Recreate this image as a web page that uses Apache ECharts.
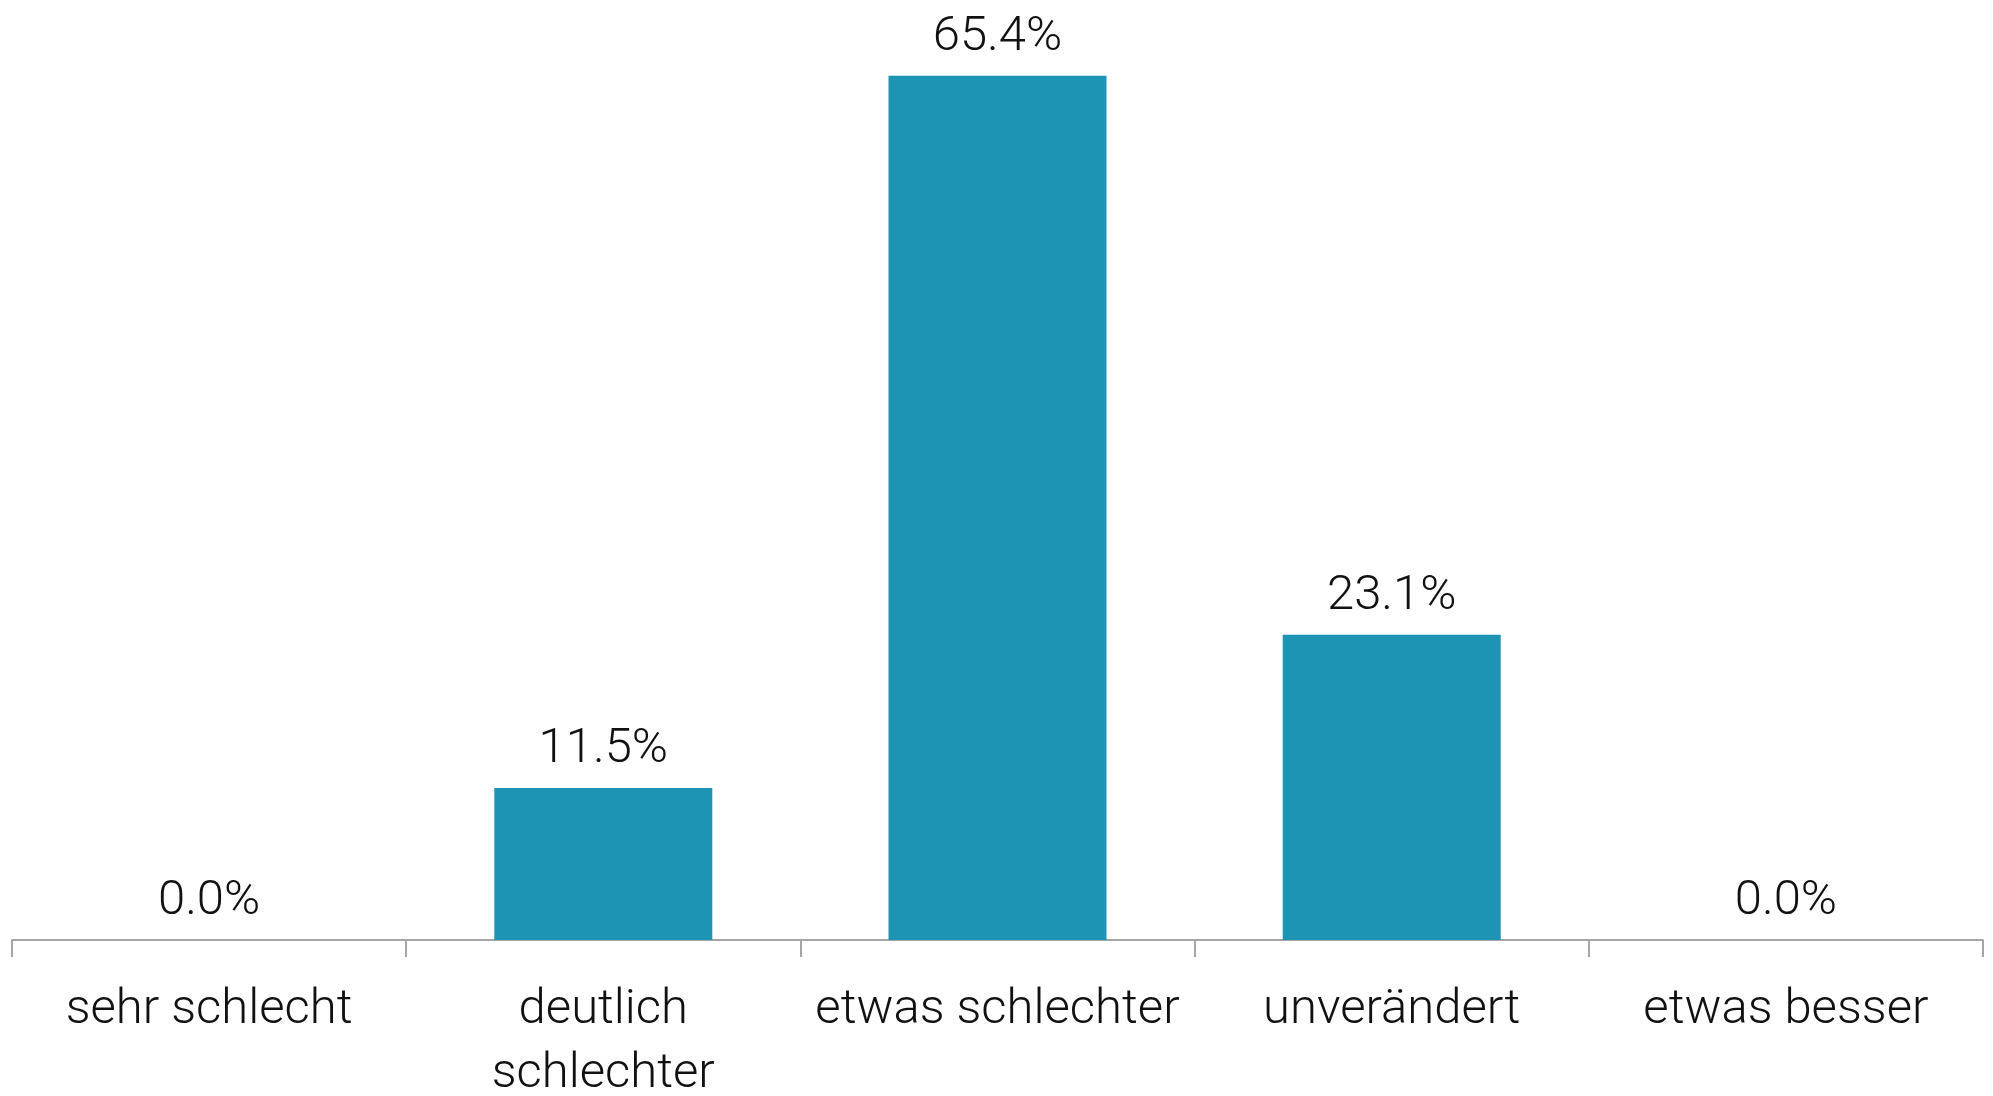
<!DOCTYPE html>
<html>
<head>
<meta charset="utf-8">
<script src="https://cdn.jsdelivr.net/npm/echarts@6/dist/echarts.min.js"></script>
<style>
  html, body { margin: 0; padding: 0; background: #ffffff; }
  #chart { width: 1993px; height: 1096px; }
</style>
</head>
<body>
<div id="chart"></div>
<script>
const categories = ['sehr schlecht', 'deutlich schlechter', 'etwas schlechter', 'unverändert', 'etwas besser'];
const shares = [0.0, 11.5, 65.4, 23.1, 0.0];

const FONT = 'Roboto';
const chart = echarts.init(document.getElementById('chart'));
chart.setOption({
  animation: false,
  grid: { left: 12, right: 10, top: 15, bottom: 156, containLabel: false, outerBoundsMode: 'none' },
  xAxis: {
    type: 'category',
    data: categories,
    axisLine: { show: true, lineStyle: { color: '#a6a6a6', width: 2 } },
    axisTick: { show: true, length: 17, lineStyle: { color: '#a6a6a6', width: 2 } },
    axisLabel: {
      interval: 0,
      margin: 39,
      color: '#111111',
      fontFamily: FONT,
      fontWeight: 300,
      fontSize: 49,
      lineHeight: 64,
      formatter: v => v.length > 17 ? v.replace(' ', '\n') : v
    }
  },
  yAxis: {
    type: 'value',
    min: 0,
    max: 70,
    show: false
  },
  series: [{
    type: 'bar',
    data: shares,
    barCategoryGap: '44.7%',
    itemStyle: { color: '#1d94b4' },
    label: {
      show: true,
      position: 'top',
      distance: 14,
      color: '#111111',
      fontFamily: FONT,
      fontWeight: 300,
      fontSize: 49,
      formatter: p => p.value.toFixed(1) + '%'
    }
  }]
});
</script>
</body>
</html>
